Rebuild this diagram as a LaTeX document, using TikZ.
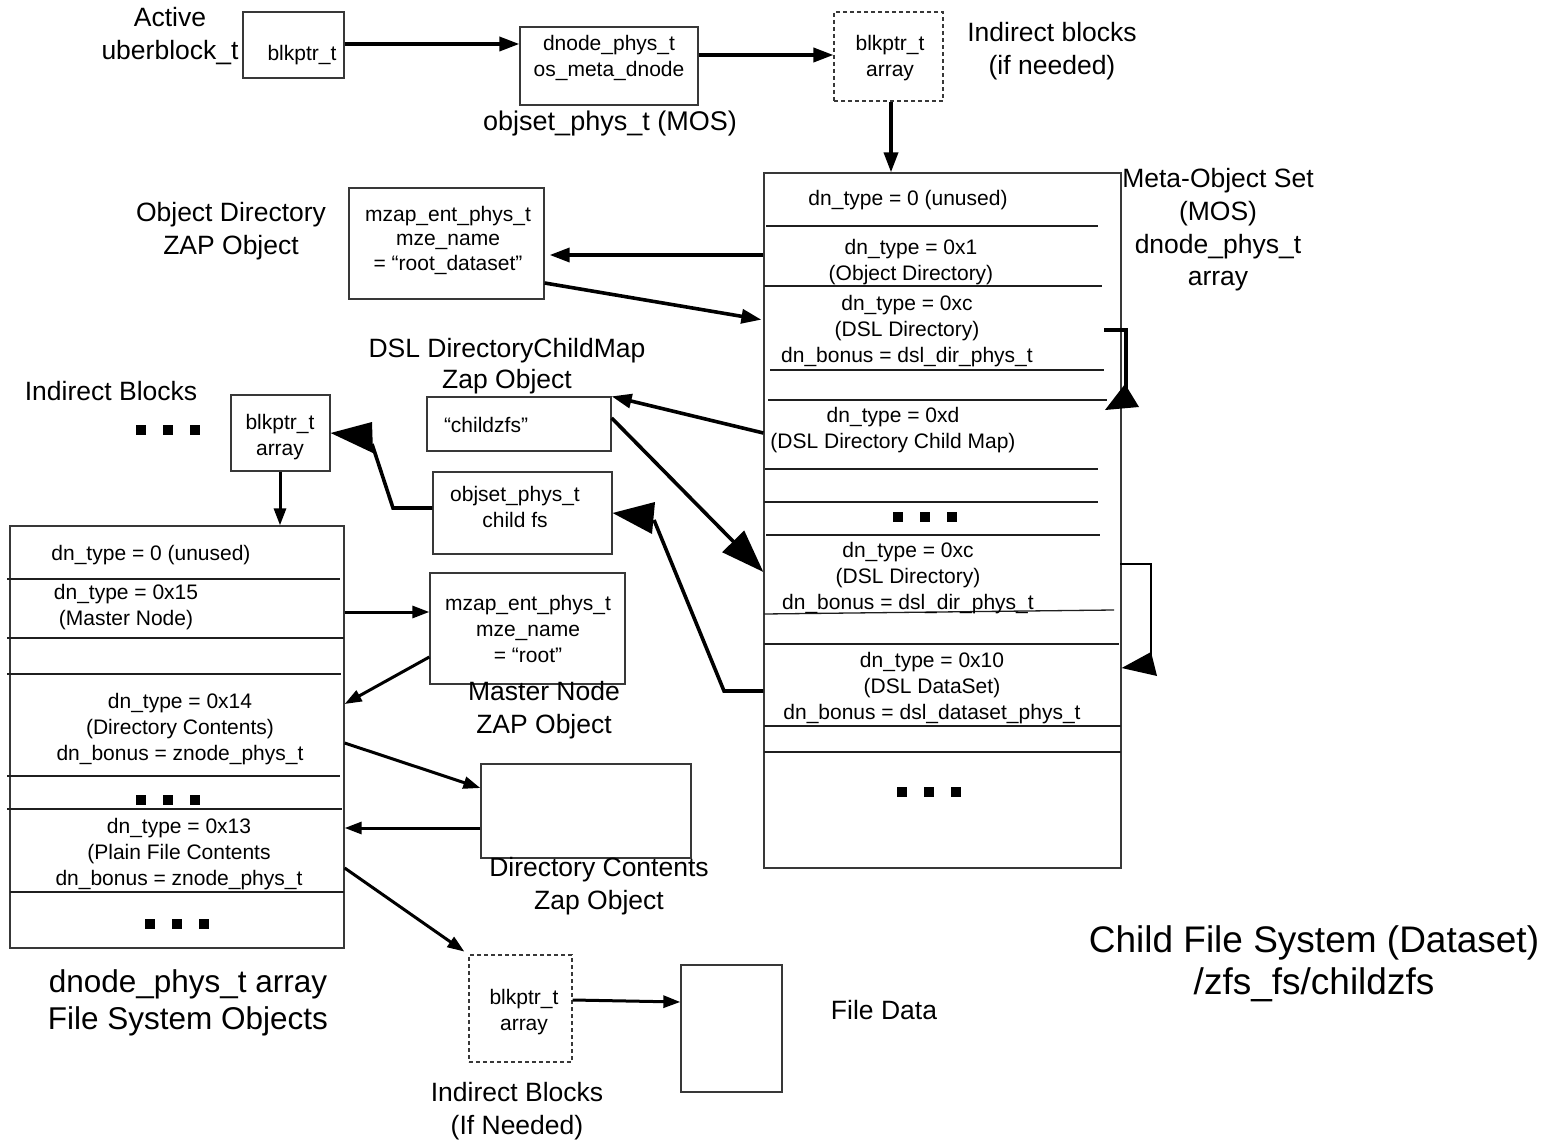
\documentclass[tikz,border=0pt]{standalone}
\usepackage{fontspec}
\setmainfont{Liberation Sans}
\usetikzlibrary{arrows.meta,fit}
\newcommand\sqrow[2]{\foreach \dx in {-27,0,27}{\fill ({#1+\dx-5},{#2-5}) rectangle ++(10,10);}}
\begin{document}
\begin{tikzpicture}[x=1pt,y=-1pt,
  box/.style={draw=black!78, line width=1.3pt, inner sep=0pt, rectangle},
  dbox/.style={box, dash pattern=on 4pt off 3pt, line width=1.1pt},
  sep/.style={draw=black!88, line width=1.3pt},
  txt/.style={font=\fontsize{21}{25.8}\selectfont, align=center, inner sep=0pt},
  lbl/.style={font=\fontsize{26.5}{32.5}\selectfont, align=center, inner sep=0pt},
  arr/.style={line width=3.6pt, -{Triangle[length=20pt,width=14pt]}},
  arrs/.style={line width=3pt, -{Triangle[length=17pt,width=12pt]}},
  bigarr/.style={line width=3.6pt, -{Triangle[length=43pt,width=30pt]}},
  thk/.style={line width=3.6pt},
  ]
\fill[white] (0,0) rectangle (1550,1142);
\useasboundingbox (0,0) rectangle (1550,1142);

% ---------- boxes ----------
\node[box, fit={(243,12)(344,78)}] (ub) {};
\node[box, fit={(520,27)(698,105)}] (dn) {};
\node[dbox, fit={(834,12)(943,101)}] (ib1) {};
\node[box, fit={(764,173)(1121,868)}] (mos) {};
\node[box, fit={(349,188)(544,299)}] (od) {};
\node[box, fit={(427,397)(611,451)}] (cz) {};
\node[box, fit={(433,472)(612,554)}] (os) {};
\node[box, fit={(231,395)(330,471)}] (ib2) {};
\node[box, fit={(10,526)(344,948)}] (fs) {};
\node[box, fit={(430,573)(625,684)}] (mn) {};
\node[box, fit={(481,764)(691,858)}] (dc) {};
\node[dbox, fit={(469,955)(572,1062)}] (ib3) {};
\node[box, fit={(681,965)(782,1092)}] (fd) {};

% ---------- MOS separators ----------
\foreach \y/\a/\b in {226/766/1098, 286/764/1102, 370/770/1104, 400/768/1107,
  469/765/1098, 502/764/1098, 535/766/1100, 644/764/1119, 726/764/1121, 752/764/1121}
  \draw[sep] (\a,\y) -- (\b,\y);
\draw[sep] (764,614) -- (1114,610);

% ---------- left array separators ----------
\foreach \y/\a/\b in {579/7/340, 638/7/344, 674/7/341, 776/7/340, 809/7/342, 892/10/344}
  \draw[sep] (\a,\y) -- (\b,\y);

% ---------- dots ----------
\sqrow{925}{517}
\sqrow{929}{792}
\sqrow{168}{430}
\sqrow{168}{800}
\sqrow{177}{924}

% ---------- texts ----------
\node[lbl] (tact) at (170,36) {Active\\uberblock\_t};
\node[txt] (tub) at (302,55) {blkptr\_t};
\node[txt] (tdn) at (609,58) {dnode\_phys\_t\\os\_meta\_dnode};
\node[lbl, font=\fontsize{27}{32}\selectfont] (tos) at (610,124) {objset\_phys\_t (MOS)};
\node[txt] (tib1) at (890,58) {blkptr\_t\\array};
\node[lbl] (tind1) at (1052,51) {Indirect blocks\\(if needed)};
\node[lbl, font=\fontsize{26.5}{32.7}\selectfont] (tmos) at (1218,230) {Meta-Object Set\\(MOS)\\dnode\_phys\_t\\array};

\node[txt] at (908,200) {dn\_type = 0 (unused)};
\node[txt] at (911,262) {dn\_type = 0x1\\(Object Directory)};
\node[txt] at (907,331) {dn\_type = 0xc\\(DSL Directory)\\dn\_bonus = dsl\_dir\_phys\_t};
\node[txt] at (893,430) {dn\_type = 0xd\\(DSL Directory Child Map)};
\node[txt] at (908,578) {dn\_type = 0xc\\(DSL Directory)\\dn\_bonus = dsl\_dir\_phys\_t};
\node[txt] at (932,688) {dn\_type = 0x10\\(DSL DataSet)\\dn\_bonus = dsl\_dataset\_phys\_t};

\node[lbl] (tod) at (231,231) {Object Directory\\ZAP Object};
\node[txt, font=\fontsize{21}{24.5}\selectfont] (tod2) at (448,240) {mzap\_ent\_phys\_t\\mze\_name\\= “root\_dataset”};
\node[lbl, font=\fontsize{26.5}{31}\selectfont] (tdsl) at (507,366) {DSL DirectoryChildMap\\Zap Object};
\node[txt] (tcz) at (486,425) {“childzfs”};
\node[txt] (tos2) at (515,507) {objset\_phys\_t\\child fs};
\node[lbl] (tind2) at (111,391) {Indirect Blocks};
\node[txt] (tib2) at (280,437) {blkptr\_t\\array};

\node[txt] at (151,555) {dn\_type = 0 (unused)};
\node[txt] at (126,607) {dn\_type = 0x15\\(Master Node)};
\node[txt] at (180,729) {dn\_type = 0x14\\(Directory Contents)\\dn\_bonus = znode\_phys\_t};
\node[txt] at (179,854) {dn\_type = 0x13\\(Plain File Contents\\dn\_bonus = znode\_phys\_t};

\node[txt] (tmn) at (528,629) {mzap\_ent\_phys\_t\\mze\_name\\= “root”};
\node[lbl] (tmn2) at (544,710) {Master Node\\ZAP Object};
\node[lbl] (tdc) at (599,886) {Directory Contents\\Zap Object};
\node[txt] (tib3) at (524,1012) {blkptr\_t\\array};
\node[lbl] (tfd) at (884,1010) {File Data};
\node[lbl] (tind3) at (517,1111) {Indirect Blocks\\(If Needed)};
\node[lbl, font=\fontsize{31.5}{37}\selectfont] (tfsobj) at (188,1003) {dnode\_phys\_t array\\File System Objects};
\node[lbl, font=\fontsize{37}{42}\selectfont] (tchild) at (1314,964) {Child File System (Dataset)\\/zfs\_fs/childzfs};

% ---------- connectors ----------
\draw[arr] (ub.east |- 0,44) -- (dn.west |- 0,44);
\draw[arr] (dn.east |- 0,55) -- (ib1.west |- 0,55);
\draw[arr] (ib1.south -| 891,0) -- (mos.north -| 891,0);

\draw[arr, shorten >=5pt] (mos.west |- 0,255) -- (od.east |- 0,255);
\draw[arr, shorten >=2pt] (od.east |- 0,283) -- (mos.west |- 0,320);
\draw[arr] (mos.west |- 0,433) -- (cz.north east);
\draw[bigarr] (cz.east |- 0,418) -- (mos.west |- 0,572);

% objset child fs -> left blkptr array
\draw[thk] (os.west |- 0,508) -- (393,508) -- (372,444);
\fill (ib2.east |- 0,433) -- (372,422) -- (373,453) -- cycle;
% DSL dataset -> objset child fs
\draw[thk] (mos.west |- 0,691) -- (724,691) -- (654,520);
\fill (os.east |- 0,513) -- (655,502) -- (652,534) -- cycle;

% MOS self references
\draw[thk] (1104,330) -- (1126,330) -- (1126,393);
\fill (1105,410) -- (1125,384) -- (1139,407) -- cycle;
\draw[line width=1.4pt] (1120,564) -- (1151,564) -- (1151,655);
\fill (mos.east |- 0,668) -- (1151,652) -- (1157,676) -- cycle;

% left side
\draw[arrs] (ib2.south -| 280,0) -- (fs.north -| 280,0);
\draw[arrs] (fs.east |- 0,612) -- (mn.west |- 0,612);
\draw[arrs] (mn.west |- 0,657) -- (fs.east |- 0,704);
\draw[arrs] (fs.east |- 0,743) -- (dc.west |- 0,788);
\draw[arrs] (dc.west |- 0,828) -- (fs.east |- 0,828);
\draw[arrs, shorten >=5pt] (fs.east |- 0,868) -- (ib3.north west);
\draw[arrs] (ib3.east |- 0,1000) -- (fd.west |- 0,1002);
\end{tikzpicture}
\end{document}
